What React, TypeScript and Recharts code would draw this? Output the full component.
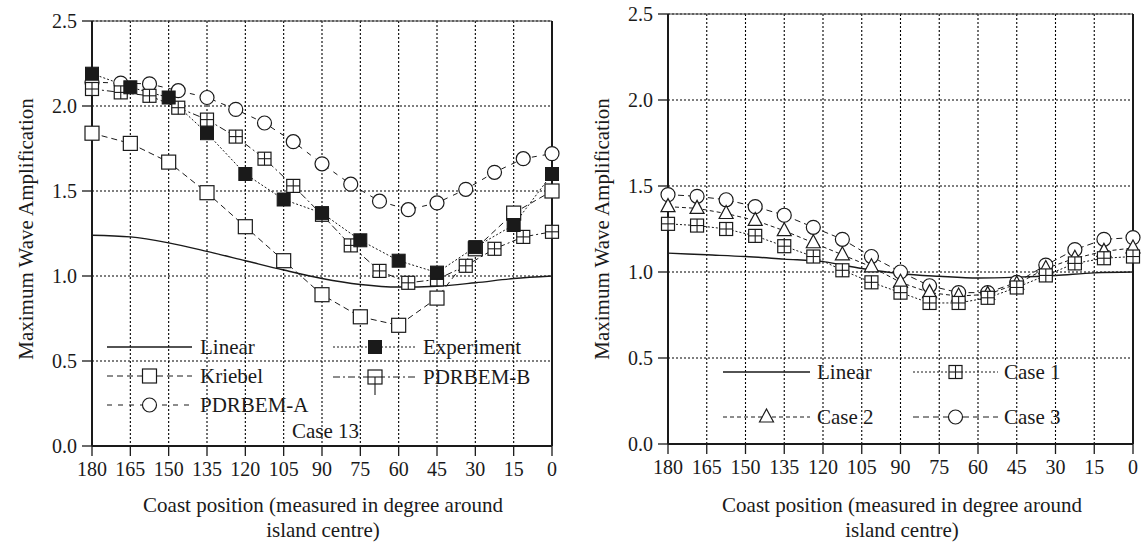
import React from 'react';
import { LineChart, Line, XAxis, YAxis, CartesianGrid, ReferenceLine } from 'recharts';

const FONT = '"Liberation Serif", "Times New Roman", serif';
const INK = '#1a1a1a';

// axis ticks
const ANGLE_TICKS = [180, 165, 150, 135, 120, 105, 90, 75, 60, 45, 30, 15, 0];
const AMP_TICKS = [0, 0.5, 1.0, 1.5, 2.0, 2.5];

// sampling positions (degrees around the island)
const COARSE_ANGLES = [180, 165, 150, 135, 120, 105, 90, 75, 60, 45, 30, 15, 0];
const FINE_ANGLES = [180, 168.75, 157.5, 146.25, 135, 123.75, 112.5, 101.25, 90, 78.75, 67.5, 56.25, 45, 33.75, 22.5, 11.25, 0];

// left panel - Case 13
const LINEAR_13 = [1.24, 1.23, 1.195, 1.145, 1.09, 1.035, 0.985, 0.95, 0.935, 0.94, 0.96, 0.985, 1.0];
const KRIEBEL = [1.84, 1.78, 1.67, 1.49, 1.29, 1.09, 0.89, 0.76, 0.71, 0.87, 1.16, 1.37, 1.5];
const EXPERIMENT = [2.19, 2.11, 2.05, 1.84, 1.6, 1.45, 1.37, 1.21, 1.09, 1.02, 1.17, 1.3, 1.6];
const PDRBEM_A = [2.14, 2.135, 2.13, 2.09, 2.05, 1.98, 1.9, 1.79, 1.66, 1.54, 1.44, 1.39, 1.43, 1.51, 1.61, 1.69, 1.72];
const PDRBEM_B = [2.1, 2.08, 2.06, 1.99, 1.92, 1.82, 1.69, 1.53, 1.36, 1.18, 1.03, 0.96, 0.98, 1.06, 1.16, 1.23, 1.26];

// right panel - cases 1..3
const LINEAR_R = [1.11, 1.1, 1.09, 1.075, 1.06, 1.02, 0.99, 0.975, 0.965, 0.97, 0.98, 0.995, 1.0];
const CASE_1 = [1.28, 1.27, 1.25, 1.21, 1.15, 1.09, 1.01, 0.94, 0.88, 0.82, 0.82, 0.85, 0.91, 0.98, 1.05, 1.08, 1.09];
const CASE_2 = [1.38, 1.37, 1.34, 1.3, 1.24, 1.17, 1.1, 1.03, 0.94, 0.88, 0.86, 0.87, 0.93, 1.02, 1.08, 1.12, 1.14];
const CASE_3 = [1.45, 1.44, 1.42, 1.38, 1.33, 1.26, 1.19, 1.09, 1.0, 0.92, 0.88, 0.88, 0.94, 1.04, 1.13, 1.19, 1.2];

const pts = (xs: number[], ys: number[]) => xs.map((angle, i) => ({ angle, amp: ys[i] }));

// ---- marker shapes ----
type M = { cx: number; cy: number };
const OpenSquare = ({ cx, cy }: M) => (
  <rect x={cx - 7} y={cy - 7} width={14} height={14} fill="#fff" stroke={INK} strokeWidth={1.2} />
);
const FilledSquare = ({ cx, cy }: M) => (
  <rect x={cx - 6.5} y={cy - 6.5} width={13} height={13} fill={INK} stroke={INK} strokeWidth={1} />
);
const OpenCircle = ({ cx, cy }: M) => (
  <circle cx={cx} cy={cy} r={7} fill="#fff" stroke={INK} strokeWidth={1.2} />
);
const CrossSquare = ({ cx, cy }: M) => (
  <g>
    <rect x={cx - 6.5} y={cy - 6.5} width={13} height={13} fill="#fff" stroke={INK} strokeWidth={1.2} />
    <line x1={cx} y1={cy - 6.5} x2={cx} y2={cy + 6.5} stroke={INK} strokeWidth={1.1} />
    <line x1={cx - 6.5} y1={cy} x2={cx + 6.5} y2={cy} stroke={INK} strokeWidth={1.1} />
  </g>
);
const Triangle = ({ cx, cy }: M) => (
  <polygon points={`${cx},${cy - 8} ${cx + 7},${cy + 5} ${cx - 7},${cy + 5}`} fill="#fff" stroke={INK} strokeWidth={1.2} />
);

const dotOf = (Shape: (m: M) => React.ReactElement, tag: string) => (p: any) => (
  <g key={`${tag}-${p.index}`}>{p.cx == null || p.cy == null ? null : <Shape cx={p.cx} cy={p.cy} />}</g>
);

const tickStyle = { fill: INK, fontSize: 20, fontFamily: FONT };

function Panel({ width, height, margin, children }: any) {
  return (
    <LineChart width={width} height={height} margin={margin}>
      <CartesianGrid stroke="#000" strokeDasharray="2 2" strokeWidth={1.1} />
      <XAxis
        type="number"
        dataKey="angle"
        domain={[0, 180]}
        reversed
        ticks={ANGLE_TICKS}
        interval={0}
        height={40}
        tick={tickStyle}
        tickSize={10}
        tickMargin={6}
        stroke={INK}
        axisLine={{ stroke: INK, strokeWidth: 2 }}
        tickLine={{ stroke: INK, strokeWidth: 1.3 }}
      />
      <YAxis
        type="number"
        domain={[0, 2.5]}
        ticks={AMP_TICKS}
        interval={0}
        width={50}
        tick={tickStyle}
        tickSize={10}
        tickMargin={5}
        tickFormatter={(v: number) => v.toFixed(1)}
        axisLine={{ stroke: INK, strokeWidth: 2 }}
        tickLine={{ stroke: INK, strokeWidth: 1.3 }}
      />
      <YAxis
        yAxisId="r"
        orientation="right"
        type="number"
        domain={[0, 2.5]}
        ticks={AMP_TICKS}
        interval={0}
        width={12}
        tickSize={12}
        tickFormatter={() => ''}
        axisLine={{ stroke: INK, strokeWidth: 2 }}
        tickLine={{ stroke: INK, strokeWidth: 1.3 }}
      />
      <ReferenceLine y={2.5} stroke="#444" strokeWidth={1.2} />
      {children}
    </LineChart>
  );
}

// ---- legend helpers (drawn in an overlay svg) ----
function Sample({ x1, x2, y, dash, w = 1, marker: Mk, label, tx }: any) {
  const mid = (x1 + x2) / 2;
  return (
    <g>
      <line x1={x1} y1={y} x2={x2} y2={y} stroke={INK} strokeWidth={w} strokeDasharray={dash} />
      {Mk ? <Mk cx={mid} cy={y} /> : null}
      <text x={tx} y={y + 7} fontSize={21} fontFamily={FONT} fill={INK}>{label}</text>
    </g>
  );
}

const PdrbemBKey = ({ cx, cy }: M) => (
  <g>
    <rect x={cx - 7} y={cy - 7} width={14} height={14} fill="#fff" stroke={INK} strokeWidth={1.2} />
    <line x1={cx - 7} y1={cy} x2={cx + 7} y2={cy} stroke={INK} strokeWidth={1.1} />
    <line x1={cx} y1={cy} x2={cx} y2={cy + 18} stroke={INK} strokeWidth={1.1} />
  </g>
);

const DASH_K = '6 4';
const DASH_DOT = '2 2';
const DASH_A = '5 6';
const DASH_B = '7 3 2 3';
const DASH_C2 = '4 3';
const DASH_C3 = '6 4';

export default function App() {
  return (
    <div style={{ position: 'absolute', left: 0, top: 0, width: 1145, height: 542, background: '#fff', fontFamily: FONT }}>
      <div style={{ position: 'absolute', left: 0, top: 0 }}>
        <Panel width={575} height={542} margin={{ top: 21, right: 11, bottom: 56, left: 42 }}>
          <Line data={pts(COARSE_ANGLES, LINEAR_13)} dataKey="amp" type="monotone" stroke={INK} strokeWidth={1.4} dot={false} isAnimationActive={false} />
          <Line data={pts(FINE_ANGLES, PDRBEM_A)} dataKey="amp" type="linear" stroke={INK} strokeWidth={1} strokeDasharray={DASH_A} dot={dotOf(OpenCircle, 'a')} isAnimationActive={false} />
          <Line data={pts(FINE_ANGLES, PDRBEM_B)} dataKey="amp" type="linear" stroke={INK} strokeWidth={1} strokeDasharray={DASH_B} dot={dotOf(CrossSquare, 'b')} isAnimationActive={false} />
          <Line data={pts(COARSE_ANGLES, KRIEBEL)} dataKey="amp" type="linear" stroke={INK} strokeWidth={1} strokeDasharray={DASH_K} dot={dotOf(OpenSquare, 'k')} isAnimationActive={false} />
          <Line data={pts(COARSE_ANGLES, EXPERIMENT)} dataKey="amp" type="linear" stroke={INK} strokeWidth={1} strokeDasharray={DASH_DOT} dot={dotOf(FilledSquare, 'e')} isAnimationActive={false} />
        </Panel>
      </div>
      <div style={{ position: 'absolute', left: 580, top: 0 }}>
        <Panel width={565} height={542} margin={{ top: 14, right: 0, bottom: 58, left: 38 }}>
          <Line data={pts(COARSE_ANGLES, LINEAR_R)} dataKey="amp" type="monotone" stroke={INK} strokeWidth={1.4} dot={false} isAnimationActive={false} />
          <Line data={pts(FINE_ANGLES, CASE_3)} dataKey="amp" type="linear" stroke={INK} strokeWidth={1} strokeDasharray={DASH_C3} dot={dotOf(OpenCircle, 'c3')} isAnimationActive={false} />
          <Line data={pts(FINE_ANGLES, CASE_2)} dataKey="amp" type="linear" stroke={INK} strokeWidth={1} strokeDasharray={DASH_C2} dot={dotOf(Triangle, 'c2')} isAnimationActive={false} />
          <Line data={pts(FINE_ANGLES, CASE_1)} dataKey="amp" type="linear" stroke={INK} strokeWidth={1} strokeDasharray={DASH_DOT} dot={dotOf(CrossSquare, 'c1')} isAnimationActive={false} />
        </Panel>
      </div>
      <svg width={1145} height={542} style={{ position: 'absolute', left: 0, top: 0, pointerEvents: 'none' }}>
        {/* axis titles */}
        <text x={33} y={229} transform="rotate(-90 33 229)" textAnchor="middle" fontSize={21} fontFamily={FONT} fill={INK}>Maximum Wave Amplification</text>
        <text x={609} y={229} transform="rotate(-90 609 229)" textAnchor="middle" fontSize={21} fontFamily={FONT} fill={INK}>Maximum Wave Amplification</text>
        <text x={323} y={512} textAnchor="middle" fontSize={21} fontFamily={FONT} fill={INK}>Coast position (measured in degree around</text>
        <text x={323} y={537} textAnchor="middle" fontSize={21} fontFamily={FONT} fill={INK}>island centre)</text>
        <text x={902} y={512} textAnchor="middle" fontSize={21} fontFamily={FONT} fill={INK}>Coast position (measured in degree around</text>
        <text x={902} y={537} textAnchor="middle" fontSize={21} fontFamily={FONT} fill={INK}>island centre)</text>

        {/* left legend */}
        <Sample x1={107} x2={192} y={347} w={1.4} label="Linear" tx={200} />
        <Sample x1={107} x2={192} y={376} dash={DASH_K} marker={OpenSquare} label="Kriebel" tx={200} />
        <Sample x1={107} x2={192} y={405} dash={DASH_A} marker={OpenCircle} label="PDRBEM-A" tx={200} />
        <Sample x1={333} x2={417} y={347} dash={DASH_DOT} marker={FilledSquare} label="Experiment" tx={423} />
        <Sample x1={333} x2={417} y={377} dash={DASH_B} marker={PdrbemBKey} label="PDRBEM-B" tx={423} />
        <text x={292} y={438} fontSize={21} fontFamily={FONT} fill={INK}>Case 13</text>

        {/* right legend */}
        <Sample x1={723} x2={810} y={372} w={1.4} label="Linear" tx={817} />
        <Sample x1={723} x2={810} y={417} dash={DASH_C2} marker={Triangle} label="Case 2" tx={817} />
        <Sample x1={913} x2={998} y={372} dash={DASH_DOT} marker={CrossSquare} label="Case 1" tx={1004} />
        <Sample x1={913} x2={998} y={417} dash={DASH_C3} marker={OpenCircle} label="Case 3" tx={1004} />
      </svg>
    </div>
  );
}
